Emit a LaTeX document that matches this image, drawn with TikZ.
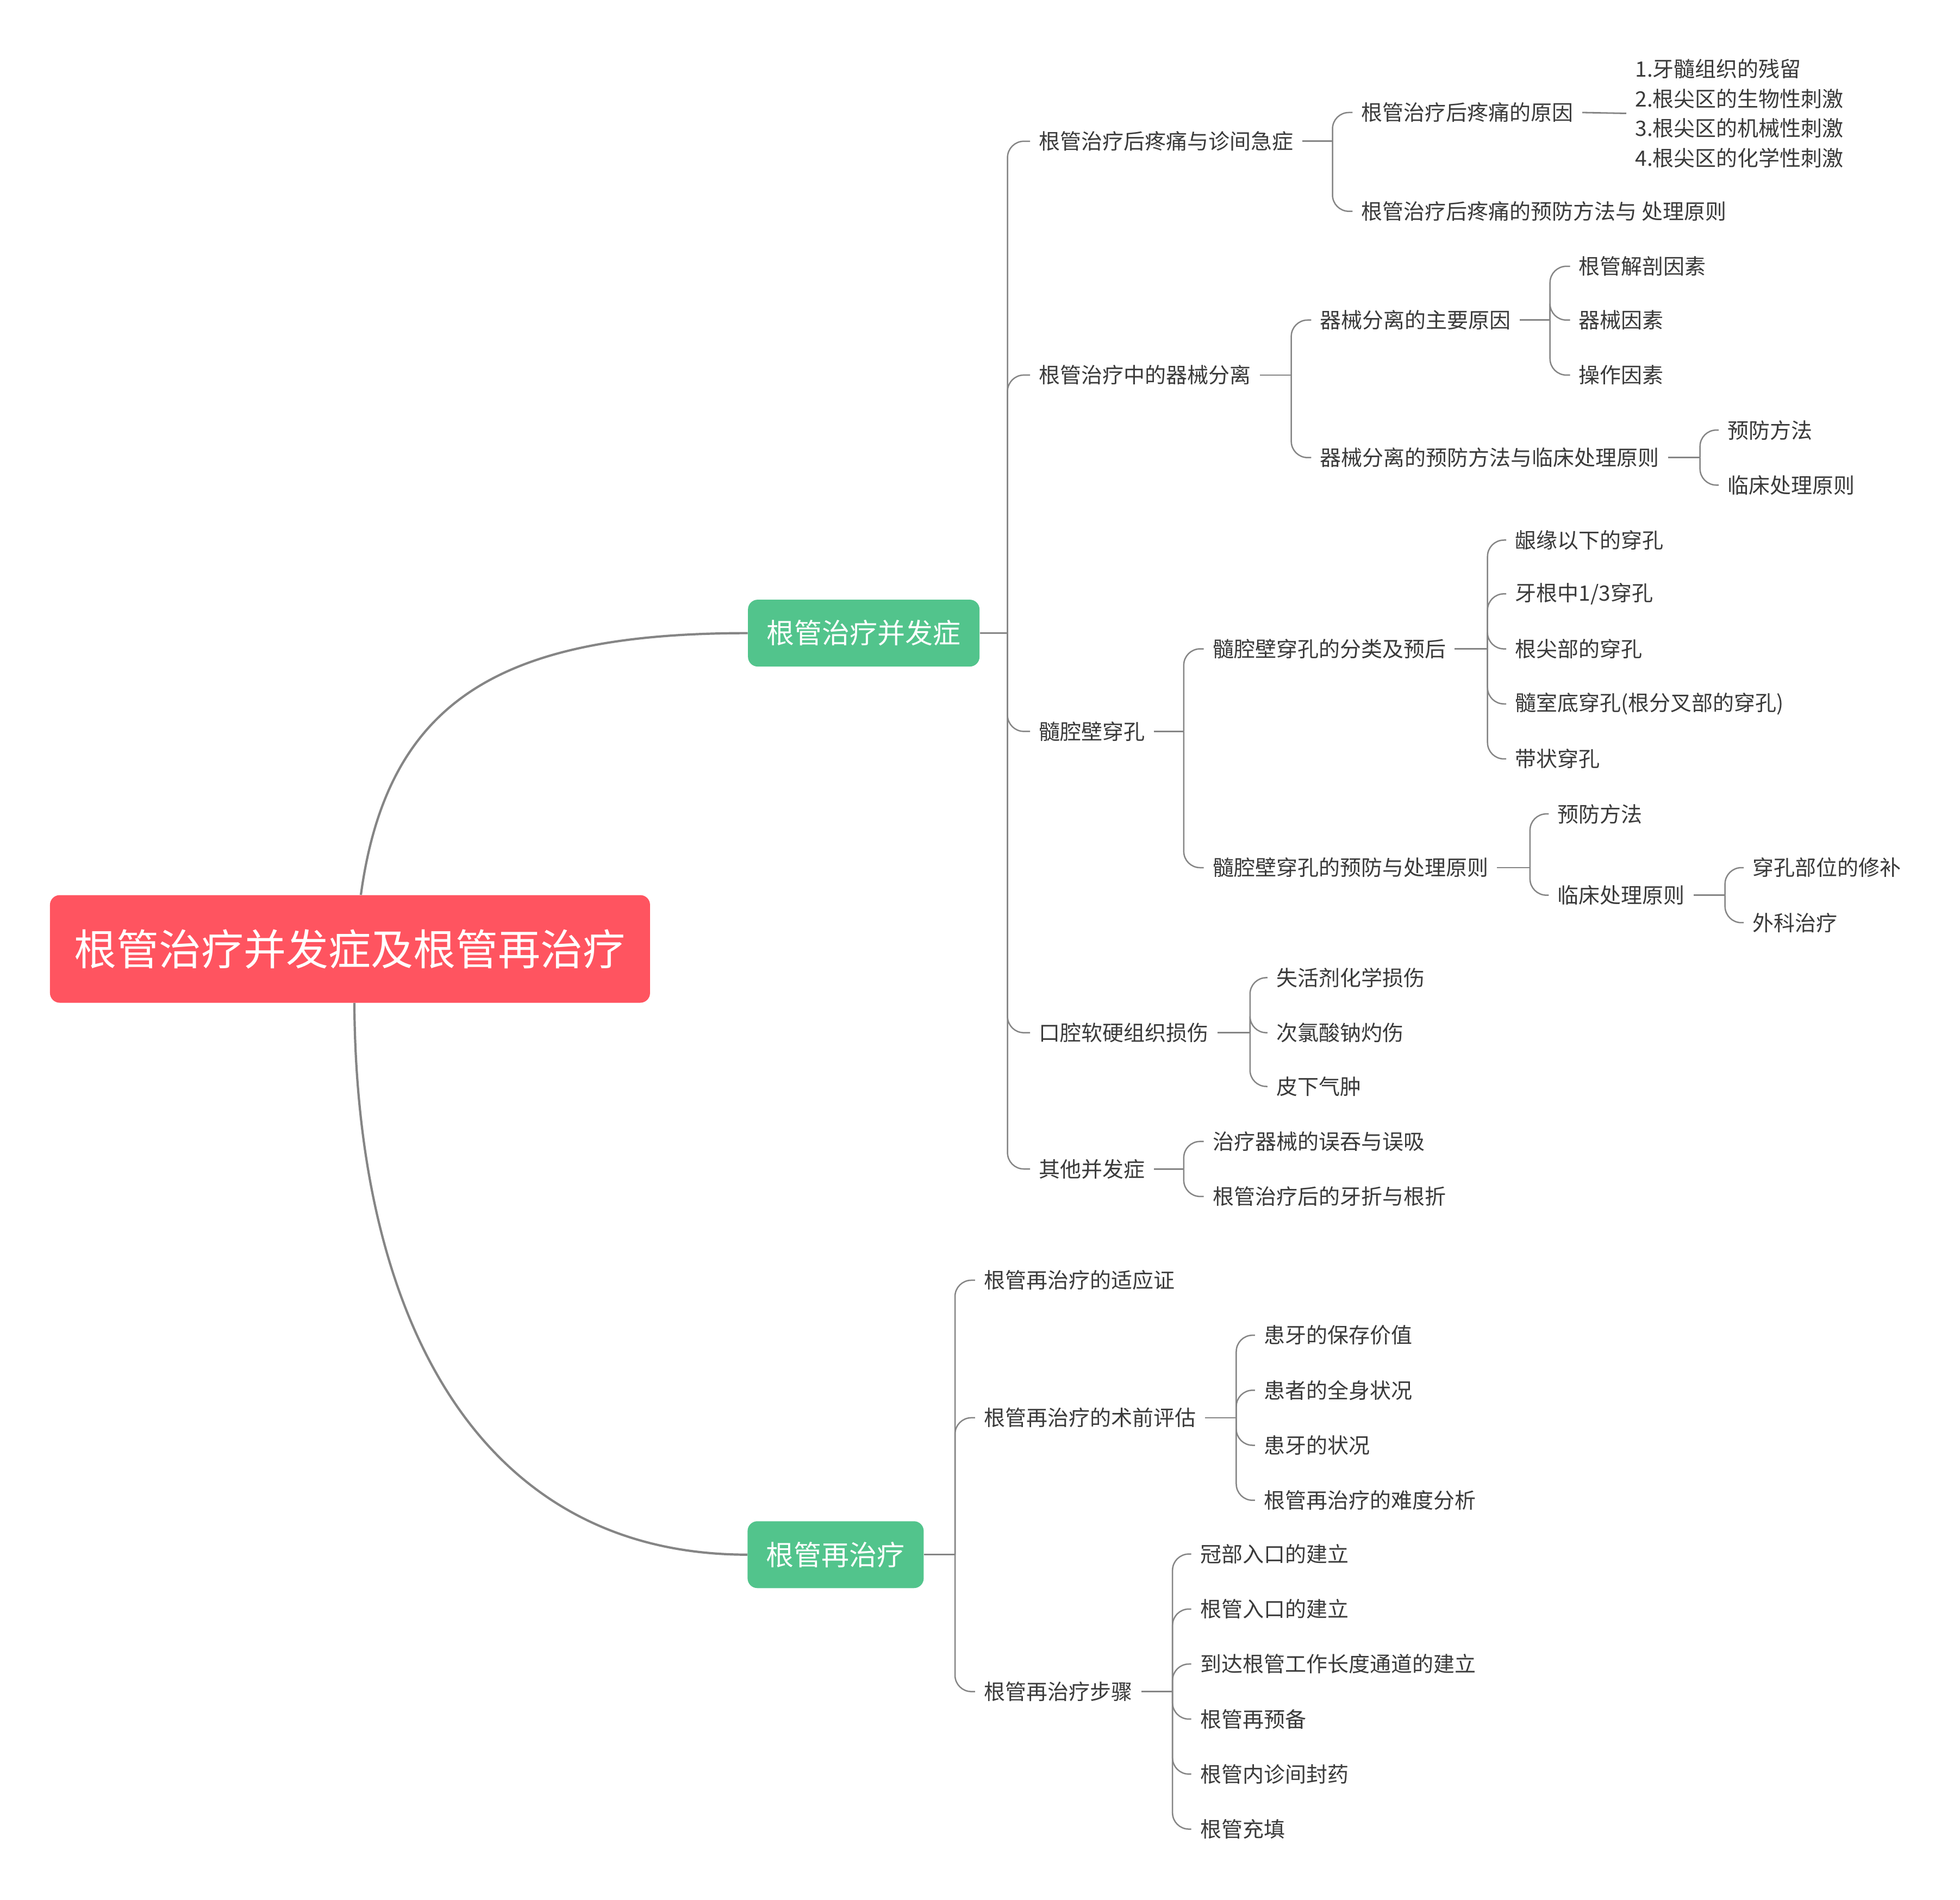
\documentclass[tikz,border=0pt]{standalone}
\usepackage{fontspec}
\setmainfont{Noto Sans CJK SC}
\definecolor{txt}{HTML}{3A3A3A}
\definecolor{ln}{HTML}{858585}
\definecolor{rootc}{HTML}{FF5460}
\definecolor{grn}{HTML}{52C48C}
\begin{document}
\begin{tikzpicture}[x=1.14987pt,y=-1.14987pt,
  lvl/.style={anchor=west, inner xsep=8pt, inner ysep=2pt, text=txt, font=\fontsize{19.5}{27.2}\selectfont},
  stub/.style={draw=ln, line width=1.4pt},
  branch/.style={draw=ln, line width=1.25pt, rounded corners=15pt},
  mainc/.style={draw=ln, line width=2.1pt},
  topic/.style={fill=grn, rounded corners=9pt, text=white, inner sep=0pt, minimum height=61.5pt, font=\fontsize{25.5}{30}\selectfont}
]
\fill[white] (0,0) rectangle (1568,1519.3);
\useasboundingbox (0,0) rectangle (1568,1519.3);

% central and main topics
\node[fill=rootc, rounded corners=9pt, minimum width=552pt, minimum height=99pt, inner sep=0pt, text=white, font=\fontsize{39}{47}\selectfont] (root) at (280,759) {根管治疗并发症及根管再治疗};
\node[topic, minimum width=213pt] (C1) at (691,506.4) {根管治疗并发症};
\node[topic, minimum width=162pt] (C2) at (668.5,1243.5) {根管再治疗};

\draw[mainc] ([xshift=10pt]root.north) .. controls (310,560) and (400,506.4) .. (C1.west);
\draw[mainc] ([xshift=4pt]root.south) .. controls (285,1050) and (380,1243.5) .. (C2.west);

% level 2 under C1
\node[lvl] (A1) at (824,113) {根管治疗后疼痛与诊间急症};
\node[lvl] (A2) at (824,300) {根管治疗中的器械分离};
\node[lvl] (A3) at (824,585) {髓腔壁穿孔};
\node[lvl] (A4) at (824,826) {口腔软硬组织损伤};
\node[lvl] (A5) at (824,935) {其他并发症};

% level 3
\node[lvl] (A1a) at (1082,90) {根管治疗后疼痛的原因};
\node[lvl] (A1b) at (1082,169) {根管治疗后疼痛的预防方法与 处理原则};
\node[lvl, align=left] (A1c) at (1301,90.7) {1.牙髓组织的残留\\2.根尖区的生物性刺激\\3.根尖区的机械性刺激\\4.根尖区的化学性刺激};

\node[lvl] (A2a) at (1049,256) {器械分离的主要原因};
\node[lvl] (A2b) at (1049,366) {器械分离的预防方法与临床处理原则};
\node[lvl] (A2a1) at (1256,213) {根管解剖因素};
\node[lvl] (A2a2) at (1256,256) {器械因素};
\node[lvl] (A2a3) at (1256,300) {操作因素};
\node[lvl] (A2b1) at (1375,344) {预防方法};
\node[lvl] (A2b2) at (1375,388) {临床处理原则};

\node[lvl] (A3a) at (963,519) {髓腔壁穿孔的分类及预后};
\node[lvl] (A3b) at (963,694) {髓腔壁穿孔的预防与处理原则};
\node[lvl] (A3a1) at (1205,432) {龈缘以下的穿孔};
\node[lvl] (A3a2) at (1205,475) {牙根中1/3穿孔};
\node[lvl] (A3a3) at (1205,519) {根尖部的穿孔};
\node[lvl] (A3a4) at (1205,563) {髓室底穿孔(根分叉部的穿孔)};
\node[lvl] (A3a5) at (1205,607) {带状穿孔};
\node[lvl] (A3b1) at (1239,651) {预防方法};
\node[lvl] (A3b2) at (1239,716) {临床处理原则};
\node[lvl] (A3b21) at (1395,694) {穿孔部位的修补};
\node[lvl] (A3b22) at (1395,738) {外科治疗};

\node[lvl] (A41) at (1014,782) {失活剂化学损伤};
\node[lvl] (A42) at (1014,826) {次氯酸钠灼伤};
\node[lvl] (A43) at (1014,869) {皮下气肿};

\node[lvl] (A51) at (963,913) {治疗器械的误吞与误吸};
\node[lvl] (A52) at (963,957) {根管治疗后的牙折与根折};

% under C2
\node[lvl] (B1) at (780,1024) {根管再治疗的适应证};
\node[lvl] (B2) at (780,1134) {根管再治疗的术前评估};
\node[lvl] (B3) at (780,1353) {根管再治疗步骤};
\node[lvl] (B21) at (1004,1068) {患牙的保存价值};
\node[lvl] (B22) at (1004,1112) {患者的全身状况};
\node[lvl] (B23) at (1004,1156) {患牙的状况};
\node[lvl] (B24) at (1004,1200) {根管再治疗的难度分析};
\node[lvl] (B31) at (953,1243) {冠部入口的建立};
\node[lvl] (B32) at (953,1287) {根管入口的建立};
\node[lvl] (B33) at (953,1331) {到达根管工作长度通道的建立};
\node[lvl] (B34) at (953,1375) {根管再预备};
\node[lvl] (B35) at (953,1419) {根管内诊间封药};
\node[lvl] (B36) at (953,1463) {根管充填};

% junctions
\coordinate (jC1) at (806,506.4);
\coordinate (jA1) at (1066,113);
\coordinate (jA2) at (1033,300);
\coordinate (jA2a) at (1240,256);
\coordinate (jA2b) at (1360,366);
\coordinate (jA3) at (947,585);
\coordinate (jA3a) at (1190,519);
\coordinate (jA3b) at (1224,694);
\coordinate (jA3b2) at (1380,716);
\coordinate (jA4) at (1000,826);
\coordinate (jA5) at (947,935);
\coordinate (jC2) at (764,1243.5);
\coordinate (jB2) at (989,1134);
\coordinate (jB3) at (938,1353);

% stubs
\draw[stub] (C1.east) -- (jC1);
\draw[stub] (A1.east) -- (jA1);
\draw[stub] (A1a.east) -- (A1c.west);
\draw[stub] (A2.east) -- (jA2);
\draw[stub] (A2a.east) -- (jA2a);
\draw[stub] (A2b.east) -- (jA2b);
\draw[stub] (A3.east) -- (jA3);
\draw[stub] (A3a.east) -- (jA3a);
\draw[stub] (A3b.east) -- (jA3b);
\draw[stub] (A3b2.east) -- (jA3b2);
\draw[stub] (A4.east) -- (jA4);
\draw[stub] (A5.east) -- (jA5);
\draw[stub] (C2.east) -- (jC2);
\draw[stub] (B2.east) -- (jB2);
\draw[stub] (B3.east) -- (jB3);

% branches
\foreach \c in {A1,A2,A3,A4,A5} \draw[branch] (jC1) |- (\c.west);
\foreach \c in {A1a,A1b} \draw[branch] (jA1) |- (\c.west);
\foreach \c in {A2a,A2b} \draw[branch] (jA2) |- (\c.west);
\foreach \c in {A2a1,A2a2,A2a3} \draw[branch] (jA2a) |- (\c.west);
\foreach \c in {A2b1,A2b2} \draw[branch] (jA2b) |- (\c.west);
\foreach \c in {A3a,A3b} \draw[branch] (jA3) |- (\c.west);
\foreach \c in {A3a1,A3a2,A3a3,A3a4,A3a5} \draw[branch] (jA3a) |- (\c.west);
\foreach \c in {A3b1,A3b2} \draw[branch] (jA3b) |- (\c.west);
\foreach \c in {A3b21,A3b22} \draw[branch] (jA3b2) |- (\c.west);
\foreach \c in {A41,A42,A43} \draw[branch] (jA4) |- (\c.west);
\foreach \c in {A51,A52} \draw[branch] (jA5) |- (\c.west);
\foreach \c in {B1,B2,B3} \draw[branch] (jC2) |- (\c.west);
\foreach \c in {B21,B22,B23,B24} \draw[branch] (jB2) |- (\c.west);
\foreach \c in {B31,B32,B33,B34,B35,B36} \draw[branch] (jB3) |- (\c.west);
\end{tikzpicture}
\end{document}
